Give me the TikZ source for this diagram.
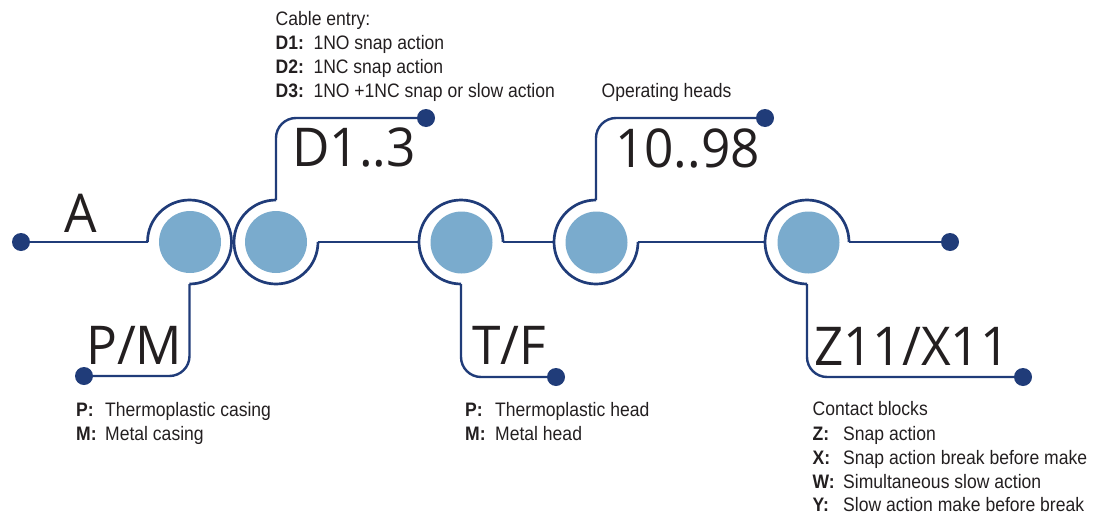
\documentclass[tikz,border=0pt]{standalone}
\usepackage{fontspec}
\setmainfont{Liberation Sans}
\newfontfamily\descfont{Liberation Sans}[FakeStretch=0.9]
\newfontfamily\bigfont{Open Sans}[FakeStretch=0.96]
\definecolor{navy}{HTML}{203C79}
\definecolor{fillblue}{HTML}{7AABCD}
\definecolor{txt}{HTML}{231F20}
\newcommand{\itemlab}[2]{\makebox[#1][l]{\bfseries #2}}
\tikzset{
  conn/.style={draw=navy, line width=2.4pt},
  ringline/.style={draw=navy, line width=2.7pt},
  ring/.style={circle, minimum size=84pt, inner sep=0pt, outer sep=0pt},
  disc/.style={circle, fill=fillblue, minimum size=62pt, inner sep=0pt},
  dot/.style={circle, fill=navy, minimum size=18pt, inner sep=0pt},
  big/.style={font=\bigfont\fontsize{53.5}{60}\selectfont, text=txt, inner sep=0pt, anchor=base west},
  desc/.style={font=\descfont\fontsize{19.5}{24}\selectfont, text=txt, inner sep=0pt, anchor=base west},
}
\begin{document}
\begin{tikzpicture}[x=1pt,y=-1pt]
\useasboundingbox (0,0) rectangle (1097,514);
% ring positions
\node[ring] (r1) at (189.5,242) {};
\node[ring] (r2) at (276,242) {};
\node[ring] (r3) at (461,242) {};
\node[ring] (r4) at (596,242) {};
\node[ring] (r5) at (807,242) {};
% filled discs
\node[disc] (f1) at (190,242) {};
\node[disc] (f2) at (276,242) {};
\node[disc] (f3) at (461.5,242.5) {};
\node[disc] (f4) at (596.5,242.5) {};
\node[disc] (f5) at (808.5,242.5) {};
% end dots
\node[dot] (d0) at (21,242) {};
\node[dot] (d1) at (84,376) {};
\node[dot] (d2) at (426,118) {};
\node[dot] (d3) at (556,377) {};
\node[dot] (d4) at (765,118) {};
\node[dot] (d5) at (950,242) {};
\node[dot] (d6) at (1023,377) {};
% ring arcs
\draw[ringline] (r1.west) arc[start angle=180, end angle=450, radius=42];
\draw[ringline] (r2.north) arc[start angle=-90, end angle=-360, radius=42];
\draw[ringline] (r3.east) arc[start angle=0, end angle=-270, radius=42];
\draw[ringline] (r4.north) arc[start angle=-90, end angle=-360, radius=42];
\draw[ringline] (r5.east) arc[start angle=0, end angle=-270, radius=42];
% connectors
\draw[conn] (d0.center) -- (r1.west);
\draw[conn, rounded corners=20pt] (r1.south) -- (r1.south |- d1.center) -- (d1.center);
\draw[conn, rounded corners=20pt] (r2.north) -- (r2.north |- d2.center) -- (d2.center);
\draw[conn] (r2.east) -- (r3.west);
\draw[conn, rounded corners=20pt] (r3.south) -- (r3.south |- d3.center) -- (d3.center);
\draw[conn] (r3.east) -- (r4.west);
\draw[conn, rounded corners=20pt] (r4.north) -- (r4.north |- d4.center) -- (d4.center);
\draw[conn] (r4.east) -- (r5.west);
\draw[conn] (r5.east) -- (d5.center);
\draw[conn, rounded corners=20pt] (r5.south) -- (r5.south |- d6.center) -- (d6.center);
% big labels
\node[big] (tA) at (64,232) {A};
\node[big] (tPM) at (86,364) {P/M};
\node[big] (tD) at (292,166) {D1..3};
\node[big] (tTF) at (472,364) {T/F};
\node[big] (tOH) at (615,167) {10..98};
\node[big] (tZX) at (814,365) {Z11/X11};
% cable entry
\node[desc] (ce0) at (275.5,25) {Cable entry:};
\node[desc] (ce1) at (275.5,49) {\itemlab{37.8pt}{D1:}1NO snap action};
\node[desc] (ce2) at (275.5,73) {\itemlab{37.8pt}{D2:}1NC snap action};
\node[desc] (ce3) at (275.5,97) {\itemlab{37.8pt}{D3:}1NO +1NC snap or slow action};
% operating heads
\node[desc] (oh0) at (601.5,97) {Operating heads};
% casing
\node[desc] (pm1) at (76,416.5) {\itemlab{29pt}{P:}Thermoplastic casing};
\node[desc] (pm2) at (76,440) {\itemlab{29pt}{M:}Metal casing};
% head
\node[desc] (tf1) at (465,416.5) {\itemlab{30pt}{P:}Thermoplastic head};
\node[desc] (tf2) at (465,440) {\itemlab{30pt}{M:}Metal head};
% contact blocks
\node[desc] (cb0) at (812.5,415) {Contact blocks};
\node[desc] (cb1) at (812.5,440) {\itemlab{30.5pt}{Z:}Snap action};
\node[desc] (cb2) at (812.5,464) {\itemlab{30.5pt}{X:}Snap action break before make};
\node[desc] (cb3) at (812.5,488) {\itemlab{30.5pt}{W:}Simultaneous slow action};
\node[desc] (cb4) at (812.5,511.5) {\itemlab{30.5pt}{Y:}Slow action make before break};
\end{tikzpicture}
\end{document}
